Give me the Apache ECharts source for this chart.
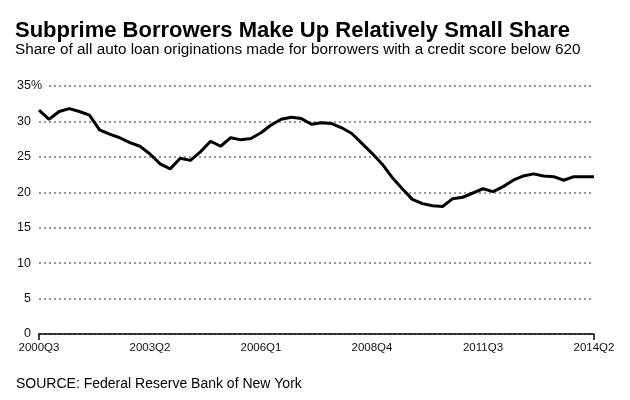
<!DOCTYPE html>
<html>
<head>
<meta charset="utf-8">
<script src="https://cdn.jsdelivr.net/npm/echarts@6/dist/echarts.min.js"></script>
<style>
  html, body { margin: 0; padding: 0; background: #fff; }
  #chart { width: 630px; height: 400px; }
</style>
</head>
<body>
<div id="chart"></div>
<script>
// quarters 2000Q3 .. 2014Q2
let quarters = [];
for (let y = 2000, q = 3; y < 2014 || (y === 2014 && q <= 2); q++) {
	if (q > 4) { q = 1; y++; }
	if (y === 2014 && q > 2) break;
	quarters.push(y + 'Q' + q);
}

// share of auto loan originations, credit score < 620 (%)
let subprimeShare = [
	31.6, 30.3, 31.4, 31.8, 31.4, 30.9, 28.8, 28.2, 27.7, 27.0,
	26.5, 25.4, 24.0, 23.3, 24.8, 24.5, 25.7, 27.2, 26.5, 27.7,
	27.4, 27.6, 28.4, 29.5, 30.3, 30.6, 30.4, 29.6, 29.8, 29.7,
	29.1, 28.3, 26.9, 25.5, 24.0, 22.1, 20.5, 19.0, 18.4, 18.1,
	18.0, 19.1, 19.3, 19.9, 20.5, 20.1, 20.8, 21.7, 22.3, 22.6,
	22.3, 22.2, 21.7, 22.2, 22.2, 22.2
];

let yTicks = [0, 5, 10, 15, 20, 25, 30, 35];

let font = '"Liberation Sans", Arial, Helvetica, sans-serif';
let chart = echarts.init(document.getElementById('chart'));

let option = {
	backgroundColor: '#fff',
	animation: false,
	title: [{
		text: 'Subprime Borrowers Make Up Relatively Small Share',
		left: 10,
		top: 15,
		textStyle: { fontFamily: font, fontSize: 22, fontWeight: 'bold', color: '#000' }
	}, {
		text: 'Share of all auto loan originations made for borrowers with a credit score below 620',
		left: 10,
		top: 37,
		textStyle: { fontFamily: font, fontSize: 15.3, fontWeight: 'normal', color: '#000' }
	}, {
		text: 'SOURCE: Federal Reserve Bank of New York',
		left: 11,
		top: 372,
		textStyle: { fontFamily: font, fontSize: 14, fontWeight: 'normal', color: '#000' }
	}],
	grid: { left: 39, right: 36, top: 86, bottom: 66 },
	xAxis: {
		type: 'category',
		boundaryGap: false,
		data: quarters,
		axisLine: { lineStyle: { color: '#000', width: 1.5 } },
		axisTick: {
			length: 6,
			lineStyle: { color: '#000', width: 1.5 },
			interval: function(i) { return i === 0 || i === quarters.length - 1; }
		},
		axisLabel: {
			interval: 10,
			margin: 8,
			fontFamily: font,
			fontSize: 11.5,
			color: '#111'
		},
		splitLine: { show: false }
	},
	yAxis: {
		type: 'value',
		min: yTicks[0],
		max: yTicks[yTicks.length - 1],
		interval: 5,
		axisLine: { show: false },
		axisTick: { show: false },
		axisLabel: {
			margin: -9,
			fontFamily: font,
			fontSize: 12.5,
			color: '#111',
			formatter: function(v) {
				return v === 35 ? '{t|35%}' : '{n|' + v + '}';
			},
			rich: {
				t: { fontFamily: font, fontSize: 12.5, color: '#111', backgroundColor: '#fff', padding: [2, 6, 2, 0] },
				n: { fontFamily: font, fontSize: 12.5, color: '#111', padding: [2, 17, 2, 0] }
			}
		},
		splitLine: {
			lineStyle: { color: '#999', width: 2, type: [2, 3] }
		}
	},
	series: [{
		type: 'line',
		data: subprimeShare,
		showSymbol: false,
		lineStyle: { color: '#000', width: 3 },
		z: 5
	}]
};

chart.setOption(option);
</script>
</body>
</html>
